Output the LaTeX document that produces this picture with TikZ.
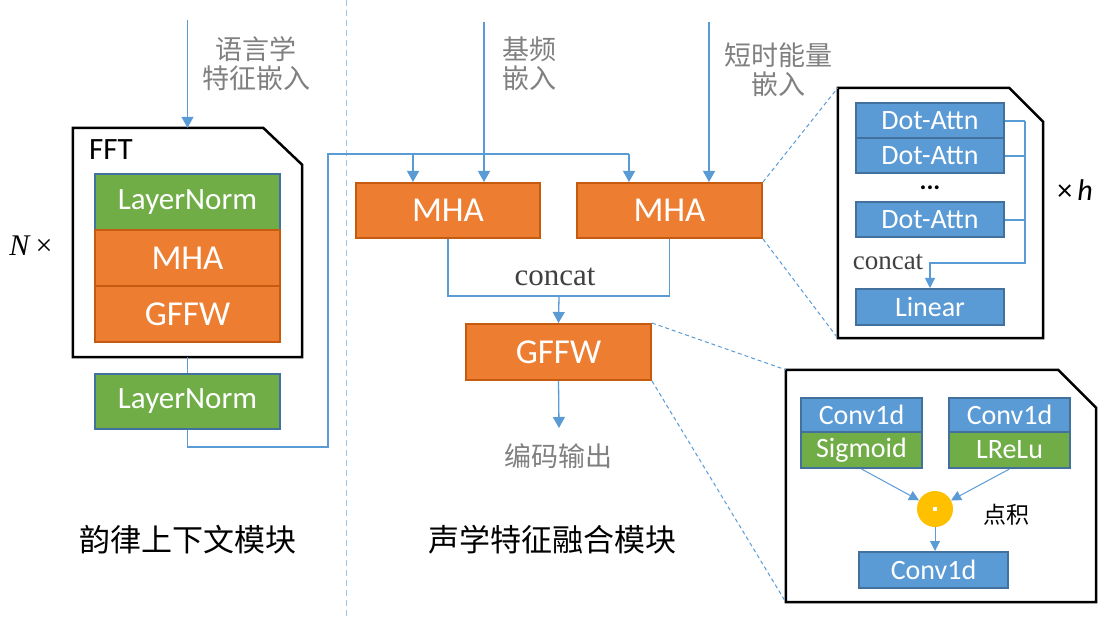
\documentclass[tikz,border=0pt]{standalone}
\usepackage{fontspec}
\setmainfont{Carlito}
\newfontfamily\cjk{Noto Sans CJK SC}
\newfontfamily\serifc{Liberation Serif}
\usetikzlibrary{arrows.meta,calc}
\newcommand{\myfs}[1]{\fontsize{#1}{#1}\selectfont}
\definecolor{cblue}{HTML}{5B9BD5}
\definecolor{cblueb}{HTML}{41719C}
\definecolor{cgreen}{HTML}{70AD47}
\definecolor{corange}{HTML}{ED7D31}
\definecolor{corangeb}{HTML}{C55A11}
\definecolor{cyellow}{HTML}{FFC000}
\definecolor{cgray}{HTML}{808080}
\definecolor{cdark}{HTML}{404040}
\definecolor{cdash}{HTML}{9DC3E6}
\tikzset{
  boxbase/.style={rectangle, inner sep=0pt, line width=2pt, text=white},
  obox/.style={boxbase, fill=corange, draw=corangeb, font=\myfs{35}},
  gbox/.style={boxbase, fill=cgreen, draw=cblueb, font=\myfs{31}},
  bbox/.style={boxbase, fill=cblue, draw=cblueb, font=\myfs{28}},
  gsbox/.style={boxbase, fill=cgreen, draw=cblueb, font=\myfs{28}},
  arr/.style={draw=cblue, line width=1.3pt, -{Triangle[width=12pt,length=11pt]}},
  arrs/.style={draw=cblue, line width=1.1pt, -{Triangle[width=10pt,length=10pt]}},
  conn/.style={draw=cblue, line width=1.3pt},
  zoomline/.style={draw=cblue, line width=1pt, dash pattern=on 4pt off 3pt},
  frame/.style={draw=black, line width=2.5pt},
  graytxt/.style={text=cgray, font=\cjk\myfs{27}, align=left, inner sep=0pt},
  ghost/.style={inner sep=0pt, draw=none},
}
\begin{document}
\begin{tikzpicture}[x=1pt,y=-1pt]
\useasboundingbox (0,0) rectangle (1111,617);
\fill[white] (0,0) rectangle (1111,617);

% divider
\coordinate (dvTop) at (346,0);
\coordinate (dvBot) at (346,617);
\draw[draw=cdash, line width=1pt, dash pattern=on 6pt off 4pt] (dvTop) -- (dvBot);

% ===== left: prosody context module =====
\node[ghost, minimum width=229pt, minimum height=229pt] (fft) at (187.5,242.5) {};
\draw[frame] (fft.north west) -- ([xshift=-39pt]fft.north east) -- ([yshift=-37pt]fft.north east) -- (fft.south east) -- (fft.south west) -- cycle;
\node[anchor=west, inner sep=0pt, font=\myfs{31}] (fftlab) at (89,150) {FFT};
\node[gbox, minimum width=185pt, minimum height=56pt] (ln1) at (187.5,202) {LayerNorm};
\node[obox, minimum width=185pt, minimum height=56pt] (mhaL) at (187.5,258) {MHA};
\node[obox, minimum width=185pt, minimum height=56pt] (gffwL) at (187.5,314) {GFFW};
\node[gbox, minimum width=185pt, minimum height=55pt] (ln2) at (187.5,401.5) {LayerNorm};
\node[inner sep=0pt, font=\serifc\myfs{30}] (nx) at (31,246) {\textit{N}\,×};

\coordinate (in1) at (187.5,20);
\draw[arr] (in1) -- (fft.north);
\node[graytxt, align=center] (lab1) at (256,64) {语言学\\[2pt]特征嵌入};
\draw[conn] (fft.south) -- (ln2.north);

\node[inner sep=0pt, font=\cjk\myfs{31}] (titleL) at (188,540) {韵律上下文模块};

% ===== middle: acoustic fusion =====
\node[obox, minimum width=184pt, minimum height=55pt] (mha1) at (448,210.5) {MHA};
\node[obox, minimum width=185pt, minimum height=55pt] (mha2) at (669.5,210.5) {MHA};
\node[obox, minimum width=185pt, minimum height=56pt] (gffw) at (558.5,352) {GFFW};

\coordinate (c1) at (328,447);
\coordinate (c2) at (328,154);
\coordinate (b1) at (413,154);
\coordinate (b2) at (629,154);
\draw[conn] (ln2.south) |- (c1) -- (c2) -- (b2);
\draw[arr] (b1) -- (b1 |- mha1.north);
\draw[arr] (b2) -- (b2 |- mha2.north);

\coordinate (in2) at (484,22);
\coordinate (in3) at (709,22);
\draw[arr] (in2) -- (in2 |- mha1.north);
\draw[arr] (in3) -- (in3 |- mha2.north);
\node[graytxt, anchor=west] (lab2) at (502,64) {基频\\[2pt]嵌入};
\node[graytxt, align=center] (lab3) at (778,70) {短时能量\\[2pt]嵌入};

\coordinate (cj) at (559,296);
\draw[conn] (mha1.south) |- (cj) -| (mha2.south);
\draw[arr] (cj) -- (gffw.north);
\node[inner sep=0pt, text=cdark, font=\serifc\myfs{31}] (cc1) at (555,277) {concat};

\coordinate (out) at (559,428);
\draw[arr] (gffw.south) -- (out);
\node[graytxt] (lab4) at (558,456) {编码输出};

\node[inner sep=0pt, font=\cjk\myfs{31}] (titleM) at (552,540) {声学特征融合模块};

% ===== right top: MHA detail =====
\node[ghost, minimum width=205pt, minimum height=250pt] (fb1) at (940.5,213) {};
\draw[frame] (fb1.north west) -- ([xshift=-34pt]fb1.north east) -- ([yshift=-34pt]fb1.north east) -- (fb1.south east) -- (fb1.south west) -- cycle;
\node[bbox, minimum width=148pt, minimum height=35pt] (da1) at (930,121) {Dot-Attn};
\node[bbox, minimum width=148pt, minimum height=35pt] (da2) at (930,156) {Dot-Attn};
\node[inner sep=0pt, text height=4pt, text depth=0pt, font=\myfs{26}] (dots) at (930,188) {\textbf{...}};
\node[bbox, minimum width=148pt, minimum height=35pt] (da3) at (930,220) {Dot-Attn};
\node[bbox, minimum width=148pt, minimum height=36pt] (lin) at (930,307) {Linear};
\coordinate (vx) at (1025,263);
\draw[conn, line width=1.1pt] (da1.east) -- (da1.east -| vx);
\draw[conn, line width=1.1pt] (da2.east) -- (da2.east -| vx);
\draw[conn, line width=1.1pt] (da3.east) -- (da3.east -| vx);
\draw[arrs] (da1.east -| vx) -- (vx) -| (lin.north);
\node[inner sep=0pt, text=cdark, font=\serifc\myfs{27}] (cc2) at (888,262) {concat};
\node[inner sep=0pt, font=\myfs{30}] (xh) at (1075,190) {×\,\textit{h}};

\draw[zoomline] (mha2.north east) -- (fb1.north west);
\draw[zoomline] (mha2.south east) -- (fb1.south west);

% ===== right bottom: GFFW detail =====
\node[ghost, minimum width=310pt, minimum height=232pt] (fb2) at (941,486) {};
\draw[frame] (fb2.north west) -- ([xshift=-38pt]fb2.north east) -- ([yshift=-38pt]fb2.north east) -- (fb2.south east) -- (fb2.south west) -- cycle;
\node[bbox, minimum width=121pt, minimum height=34pt] (cv1) at (861.5,415) {Conv1d};
\node[gsbox, minimum width=121pt, minimum height=36pt] (sig) at (861.5,450) {Sigmoid};
\node[bbox, minimum width=121pt, minimum height=34pt] (cv2) at (1009.5,415) {Conv1d};
\node[gsbox, minimum width=121pt, minimum height=36pt] (lre) at (1009.5,450) {LReLu};
\node[circle, fill=cyellow, minimum size=36pt, inner sep=0pt] (dot) at (935,509) {};
\fill[white] ([shift={(-2pt,-2pt)}]dot.center) rectangle ([shift={(2pt,2pt)}]dot.center);
\node[bbox, minimum width=149pt, minimum height=36pt] (cv3) at (933.5,570) {Conv1d};
\node[inner sep=0pt, font=\cjk\myfs{23}] (dj) at (1006,515) {点积};
\draw[arrs, line width=1pt] (sig.south) -- (dot);
\draw[arrs, line width=1pt] (lre.south) -- (dot);
\draw[arrs, line width=1pt] (dot) -- (cv3.north -| dot);

\draw[zoomline] (gffw.north east) -- (fb2.north west);
\draw[zoomline] (gffw.south east) -- (fb2.south west);
\end{tikzpicture}
\end{document}
